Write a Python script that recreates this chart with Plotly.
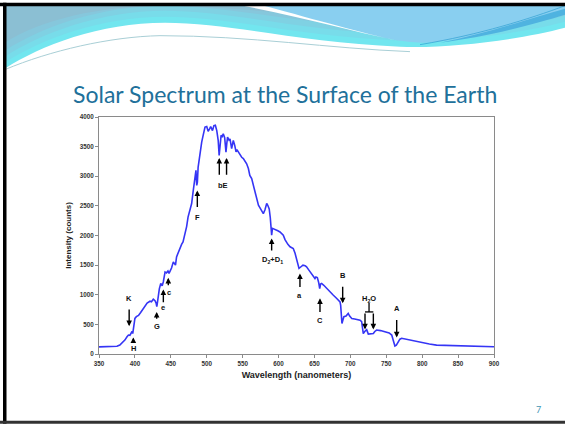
import plotly.graph_objects as go

# ---------------- data ----------------
wavelength = [350, 360, 370, 375, 379, 383, 386, 389, 391, 393, 394.5, 396, 397, 398, 400, 402, 405, 408,
              411, 414, 417, 421, 423, 425.6, 428, 429.5, 430.5, 431.5, 432.6, 434, 436, 438, 439.6, 441,
              442, 444, 446, 447.5, 449, 451, 453.5, 455, 456.5, 458, 461, 463, 465, 467, 470, 472, 474,
              476, 479, 481, 483.7, 485, 486.1, 487, 488, 489.7, 491.6, 493, 495, 496.5, 497.6, 500, 502,
              504, 505.5, 507, 508, 510, 512, 514, 516, 517.3, 518.5, 520, 521.5, 523, 525, 526.8, 528,
              529, 531, 532.4, 534.7, 536, 537, 539, 540.8, 542, 544, 546.5, 548.7, 551, 553, 555.6, 558,
              560, 562.6, 565, 567, 570, 572, 575, 578.8, 581, 583.5, 585, 587, 588.5, 589.5, 590.4, 591.5,
              592.7, 596, 599, 602, 604, 606.6, 609, 611, 613, 616, 620.5, 623, 625, 627, 628.5, 630, 634,
              637, 639, 642, 646, 648, 650.7, 652, 654, 656, 657.3, 658.5, 660, 663, 667, 671, 676, 680,
              683, 685.6, 686.5, 687.5, 688.3, 690, 691, 694, 697, 699, 702, 706, 711, 713.5, 715.7, 716.5,
              718, 720, 722.7, 725, 728, 732, 734, 736.6, 742, 748, 754, 757.6, 759, 760.5, 762, 764,
              766.7, 769, 771.4, 777, 783, 790, 801.6, 810, 820, 835, 857, 875, 890, 900]
intensity = [120, 122, 125, 130, 150, 190, 235, 290, 320, 315, 360, 380, 345, 420, 600, 630, 650, 700,
             760, 820, 860, 890, 880, 925, 900, 860, 800, 880, 1030, 1100, 1190, 1150, 1220, 1300,
             1385, 1370, 1400, 1360, 1390, 1450, 1555, 1520, 1500, 1640, 1740, 1810, 1850, 1890, 2035, 2150, 2310,
             2400, 2540, 2735, 2985, 3100, 2845, 2900, 3150, 3320, 3490, 3575, 3690, 3770, 3830, 3840, 3760,
             3800, 3840, 3800, 3770, 3855, 3860, 3770, 3600, 3350, 3500, 3690, 3670, 3715, 3650, 3405, 3560,
             3660, 3610, 3630, 3465, 3560, 3605, 3520, 3410, 3450, 3410, 3370, 3320, 3300, 3260, 3210, 3130,
             3015, 2960, 2840, 2760, 2640, 2510, 2450, 2370, 2430, 2540, 2510, 2450, 2300, 2020, 2005, 2120,
             2115, 2090, 2080, 2060, 2030, 2005, 1930, 1880, 1850, 1810, 1780, 1700, 1610, 1530, 1445, 1460, 1500,
             1490, 1470, 1420, 1360, 1320, 1275, 1300, 1290, 1200, 1105, 1180, 1190, 1160, 1105, 1050, 995, 950,
             910, 880, 820, 600, 515, 590, 630, 640, 685, 640, 600, 590, 585, 570, 545, 480,
             345, 380, 410, 335, 340, 345, 380, 405, 395, 375, 355, 320, 260, 160, 135, 150,
             207, 250, 265, 250, 236, 220, 190, 168, 150, 146, 140, 132, 126, 122]

x_ticks = [350, 400, 450, 500, 550, 600, 650, 700, 750, 800, 850, 900]
y_ticks = [0, 500, 1000, 1500, 2000, 2500, 3000, 3500, 4000]

# Fraunhofer line markers: label, x, arrow head y, arrow tail y
line_labels = ["K", "H", "G", "e", "c", "F", "b", "E", "D", "a", "C", "B", "H2O-1", "H2O-2", "A"]
line_x = [392, 397.8, 430.3, 439.6, 446.5, 486.9, 517.5, 527.6, 590.4, 629.8, 657.7, 689.3, 720.4, 732, 764.5]
head_y = [470, 280, 710, 1090, 1285, 2760, 3310, 3310, 1950, 1360, 940, 855, 415, 415, 280]
tail_y = [775, 190, 570, 850, 1135, 2455, 3000, 3000, 1720, 1105, 685, 1160, 710, 710, 600]

text_labels = ["K", "H", "G", "e", "c", "F", "bE", "D<sub>2</sub>+D<sub>1</sub>", "a", "C", "B", "H<sub>2</sub>O", "A"]
text_x = [392, 397.8, 430.3, 439.6, 447.5, 486.9, 522, 591.7, 629.8, 657.7, 689.3, 725.5, 764.5]
text_y = [930, 95, 460, 785, 1030, 2300, 2845, 1595, 995, 560, 1320, 930, 760]

# ---------------- layout geometry (pixels) ----------------
W, H = 565, 424
PL, PR, PT, PB = 99, 494, 116.5, 354


def px(x):
    return (x - PL) / (PR - PL)


def py(y):
    return (PB - y) / (PB - PT)


fig = go.Figure()
fig.add_trace(go.Scatter(x=wavelength, y=intensity, mode="lines",
                         line=dict(color="#3535f5", width=1.6), hoverinfo="skip", showlegend=False))

annotations = []
for lab, x, hy, ty in zip(line_labels, line_x, head_y, tail_y):
    annotations.append(dict(x=x, y=hy, ax=x, ay=ty, xref="x", yref="y", axref="x", ayref="y",
                            text="", showarrow=True, arrowhead=2, arrowsize=0.8, arrowwidth=1.4,
                            arrowcolor="black", standoff=0, startstandoff=0))
for t, x, y in zip(text_labels, text_x, text_y):
    annotations.append(dict(x=x, y=y, xref="x", yref="y", text=t, showarrow=False,
                            xanchor="center", yanchor="middle",
                            font=dict(family="Liberation Sans, Arial", size=7.5, color="#111", weight="bold")))

# title and page number
annotations.append(dict(x=px(285), y=py(93), xref="paper", yref="paper", xanchor="center", yanchor="middle",
                        text="Solar Spectrum at the Surface of the Earth",
                        showarrow=False, font=dict(family="Lato, Open Sans", size=23, color="#21709a")))
annotations.append(dict(x=px(538), y=py(410), xref="paper", yref="paper", xanchor="center", yanchor="middle",
                        text="7", showarrow=False, font=dict(family="Lato, Open Sans", size=9, color="#3e95b5")))

shapes = []
# H2O bracket
shapes.append(dict(type="line", xref="x", yref="y", x0=726, x1=726, y0=860, y1=710, line=dict(color="black", width=1.3)))
shapes.append(dict(type="line", xref="x", yref="y", x0=720.4, x1=732, y0=710, y1=710, line=dict(color="black", width=1.3)))


def path_px(cmds):
    out = []
    for c in cmds:
        if isinstance(c, str):
            out.append(c)
        else:
            out.append("%.4f,%.4f" % (px(c[0]), py(max(c[1], 5))))
    return " ".join(out)


def banner_block(shift, color):
    s = shift
    return dict(type="path", xref="paper", yref="paper", layer="above", line=dict(width=0), fillcolor=color,
                path=path_px(["M", (5, 5), "L", (565, 5), "L", (565, 27 - s), "C", (520, 39 - s), (450, 48 - s), (400, 46 - s),
                              "C", (300, 42 - s), (230, 22 - s), (165, 22 - s), "C", (100, 22 - s), (40, 45 - s), (5, 68 - s), "Z"]))


# banner: pseudo-gradient (cyan at the bottom to grey-teal at the top)
for sh, col in [(0, "#72e6ef"), (6, "#78dcea"), (12, "#7fd1e3"), (18, "#86c7dc"), (26, "#8bbfd3")]:
    shapes.append(banner_block(sh, col))

# sky-blue right region
shapes.append(dict(type="path", xref="paper", yref="paper", layer="above", line=dict(width=0),
                   fillcolor="#89cff0",
                   path=path_px(["M", (262, 5), "L", (565, 5), "L", (565, 9), "C", (520, 22), (470, 40), (425, 42),
                                 "C", (390, 42), (350, 28), (262, 5), "Z"])))
# white swoosh stripe
shapes.append(dict(type="path", xref="paper", yref="paper", layer="above", line=dict(width=0),
                   fillcolor="white",
                   path=path_px(["M", (243, 5), "L", (264, 5), "C", (320, 20), (360, 32), (398, 40),
                                 "C", (350, 30), (300, 16), (243, 5), "Z"])))
# darker blue streaks at top right
shapes.append(dict(type="path", xref="paper", yref="paper", layer="above", line=dict(width=0),
                   fillcolor="#4fb3e0",
                   path=path_px(["M", (440, 42), "C", (490, 32), (535, 16), (565, 8), "L", (565, 14),
                                 "C", (535, 23), (490, 36), (440, 42), "Z"])))
shapes.append(dict(type="path", xref="paper", yref="paper", layer="above",
                   line=dict(color="#3aa6d6", width=0.8),
                   path=path_px(["M", (420, 44), "C", (480, 34), (530, 18), (565, 5)])))
# thin wave line under banner
shapes.append(dict(type="path", xref="paper", yref="paper", layer="above",
                   line=dict(color="#a9cfd6", width=1),
                   path=path_px(["M", (5, 69), "C", (50, 50), (110, 36), (160, 35), "C", (250, 35), (330, 48), (410, 51)])))
# slide border
shapes.append(dict(type="rect", xref="paper", yref="paper", layer="above", line=dict(width=0), fillcolor="black",
                   x0=px(0), x1=px(565), y0=py(2), y1=py(5.5)))
shapes.append(dict(type="rect", xref="paper", yref="paper", layer="above", line=dict(width=0), fillcolor="black",
                   x0=px(3), x1=px(6.5), y0=py(2), y1=py(424)))
shapes.append(dict(type="rect", xref="paper", yref="paper", layer="above", line=dict(width=0), fillcolor="#333",
                   x0=px(0), x1=px(565), y0=py(421), y1=py(424)))

axis_common = dict(showline=True, linecolor="#8a8a8a", linewidth=1, mirror=True, ticks="outside", ticklen=3,
                   tickcolor="#8a8a8a", showgrid=False, zeroline=False,
                   tickfont=dict(family="Liberation Sans, Arial", size=6.3, color="#333", weight="bold"))

fig.update_layout(
    width=W, height=H, autosize=False,
    margin=dict(l=PL, r=W - PR, t=PT, b=H - PB, pad=0),
    paper_bgcolor="white", plot_bgcolor="white",
    xaxis=dict(range=[350, 900], tickvals=x_ticks, ticktext=[str(v) for v in x_ticks],
               title=dict(text="Wavelength (nanometers)", standoff=6,
                          font=dict(family="Liberation Sans, Arial", size=9, color="#222", weight="bold")),
               **axis_common),
    yaxis=dict(range=[0, 4000], tickvals=y_ticks, ticktext=[str(v) for v in y_ticks],
               title=dict(text="Intensity (counts)", standoff=6,
                          font=dict(family="Liberation Sans, Arial", size=8, color="#222", weight="bold")),
               **axis_common),
    annotations=annotations, shapes=shapes, showlegend=False,
)

fig.write_html("out.html", config={"displayModeBar": False, "staticPlot": True},
               post_script="document.body.style.margin='0px';document.body.style.overflow='hidden';")
